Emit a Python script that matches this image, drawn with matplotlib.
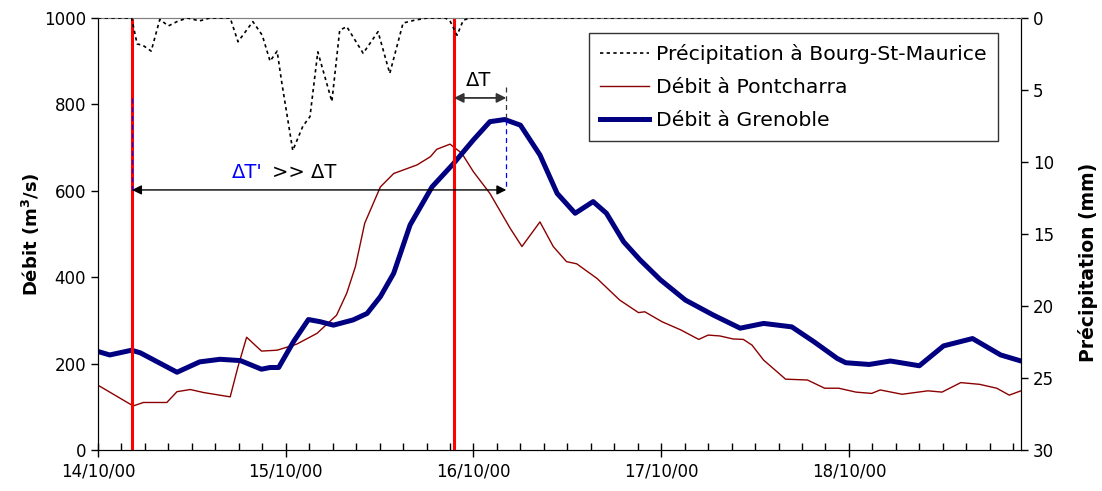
import matplotlib
matplotlib.use("Agg")
import matplotlib.pyplot as plt
from matplotlib.lines import Line2D
from matplotlib.ticker import MultipleLocator, FixedLocator, FixedFormatter

# temps en heures depuis le 14/10/00 00:00
t_precip = [0, 3.8, 4.3, 5.0, 5.75, 6.8, 7.9, 9.0, 10.1, 11.4, 13.0, 14.3, 16.9, 17.9,
            19.8, 21.0, 22.0, 22.9, 23.5, 24.9, 26.2, 27.1, 28.1, 29.9, 30.9, 31.8,
            33.9, 35.8, 37.3, 39.0, 40.5, 42.1, 44.4, 45.0, 45.9, 46.7, 47.6, 118]
precip = [0, 0, 0, 1.8, 1.9, 2.3, 0.1, 0.55, 0.25, 0, 0.2, 0, 0, 1.65,
          0.25, 1.2, 3.0, 2.3, 4.5, 9.2, 7.5, 6.85, 2.35, 5.8, 0.85, 0.6,
          2.45, 0.95, 3.85, 0.35, 0.15, 0, 0, 0.2, 1.2, 0.15, 0, 0]

t_pont = [0, 4.5, 5.8, 8.8, 10.1, 11.8, 13.5, 16.9, 17.9, 19.0, 20.9, 22.9, 25.4,
          28.0, 30.5, 31.8, 32.9, 34.1, 36.1, 37.8, 40.8, 42.5, 43.3, 45.0, 46.5,
          48.0, 50.1, 52.7, 54.2, 56.5, 58.2, 59.9, 61.2, 63.8, 66.7, 69.1, 69.9,
          72.1, 74.5, 76.8, 78.0, 79.5, 81.2, 82.5, 83.6, 85.1, 87.9, 90.7, 92.9,
          94.7, 96.9, 98.9, 100.0, 102.8, 106.1, 107.9, 110.3, 112.7, 114.9, 116.5, 118]
q_pont = [150, 102, 110, 110, 135, 140, 133, 123, 193, 261, 229, 231, 245,
          270, 312, 363, 424, 525, 609, 640, 660, 679, 696, 708, 687,
          644, 594, 513, 471, 528, 471, 436, 431, 397, 347, 318, 320,
          297, 278, 256, 266, 264, 257, 256, 243, 208, 164, 162, 143,
          143, 134, 131, 139, 129, 137, 134, 156, 152, 143, 127, 137]

t_gren = [0, 1.5, 4.3, 5.4, 10.1, 13.0, 15.6, 18.2, 20.9, 22.0, 23.1, 25.0, 26.9,
          28.4, 30.1, 32.6, 34.4, 36.1, 37.8, 39.9, 42.7, 45.4, 48.0, 50.1, 52.0,
          54.0, 56.5, 58.7, 61.0, 63.3, 65.0, 67.2, 69.3, 71.9, 75.1, 78.7, 82.1,
          85.1, 88.7, 91.5, 94.5, 95.6, 98.6, 101.3, 105.0, 108.1, 111.8, 115.4, 118]
q_gren = [228, 220, 231, 225, 180, 204, 210, 207, 187, 191, 191, 251, 302,
          297, 289, 301, 316, 355, 409, 521, 609, 662, 718, 760, 765,
          752, 683, 594, 548, 575, 548, 482, 440, 394, 347, 312, 282,
          293, 285, 251, 212, 202, 198, 206, 195, 241, 258, 220, 206]

day_labels = ["14/10/00", "15/10/00", "16/10/00", "17/10/00", "18/10/00"]
t_start_rain = 4.35   # début de la pluie
t_peak_pont = 45.5    # pic à Pontcharra
t_peak_gren = 52.2    # pic à Grenoble

fig = plt.figure(figsize=(11.02, 4.91), dpi=100)
ax = fig.add_axes([98 / 1102, 41 / 491, 923 / 1102, 432 / 491])

ax.plot(t_pont, q_pont, color="#8B0000", lw=1.0, zorder=3)
ax.plot(t_gren, q_gren, color="#000080", lw=3.6, zorder=3,
        solid_capstyle="round", solid_joinstyle="round")

# lignes verticales rouges
ax.axvline(t_start_rain, color="#FF0000", lw=2.2, zorder=4)
ax.axvline(t_peak_pont, color="#FF0000", lw=2.2, zorder=4)

# repères en pointillés
ax.plot([t_start_rain, t_start_rain], [815, 602], color="blue", lw=0.9, ls=(0, (4, 3)), zorder=5)
ax.plot([t_peak_gren, t_peak_gren], [765, 602], color="blue", lw=0.9, ls=(0, (4, 3)), zorder=5)
ax.plot([t_peak_gren, t_peak_gren], [840, 765], color="#333333", lw=0.9, ls=(0, (4, 3)), zorder=5)

# flèches
ax.annotate("", xy=(t_start_rain, 602), xytext=(t_peak_gren, 602),
            arrowprops=dict(arrowstyle="<|-|>", color="black", lw=1.0,
                            shrinkA=0, shrinkB=0, mutation_scale=14), zorder=5)
ax.annotate("", xy=(t_peak_pont, 815), xytext=(t_peak_gren, 815),
            arrowprops=dict(arrowstyle="<|-|>", color="#333333", lw=1.3,
                            shrinkA=0, shrinkB=0, mutation_scale=14), zorder=5)
ax.text(48.6, 855, "ΔT", fontsize=14, ha="center", va="center")
ax.text(21.1, 643, "ΔT'", fontsize=14, ha="right", va="center", color="blue")
ax.text(22.3, 643, ">> ΔT", fontsize=14, ha="left", va="center", color="black")

ax.set_xlim(0, 118)
ax.set_ylim(0, 1000)
ax.xaxis.set_major_locator(FixedLocator([0, 24, 48, 72, 96]))
ax.xaxis.set_major_formatter(FixedFormatter(day_labels))
ax.xaxis.set_minor_locator(MultipleLocator(3))
ax.yaxis.set_major_locator(MultipleLocator(200))
ax.tick_params(axis="x", which="major", direction="inout", length=10, width=1, labelsize=12, pad=4)
ax.tick_params(axis="x", which="minor", direction="in", length=5, width=1)
ax.tick_params(axis="y", direction="out", length=5, width=1, labelsize=12)
ax.set_ylabel("Débit (m$^\\mathbf{3}$/s)", fontsize=13, fontweight="bold")
ax.yaxis.set_label_coords(-56 / 923, 0.5)
ax.spines["top"].set_color("#808080")

ax2 = ax.twinx()
ax2.plot(t_precip, precip, color="black", lw=1.2, ls=(0, (2, 2)), zorder=3)
ax2.set_ylim(30, 0)
ax2.yaxis.set_major_locator(MultipleLocator(5))
ax2.tick_params(axis="y", direction="out", length=5, width=1, labelsize=12)
ax2.set_ylabel("Précipitation (mm)", fontsize=13.5, fontweight="bold")
ax2.yaxis.set_label_coords((1078 - 98) / 923, (450 - 262) / 432)
ax2.spines["top"].set_color("#808080")

handles = [
    Line2D([], [], color="black", lw=1.2, ls=(0, (2, 2))),
    Line2D([], [], color="#8B0000", lw=1.0),
    Line2D([], [], color="#000080", lw=3.6),
]
labels = ["Précipitation à Bourg-St-Maurice", "Débit à Pontcharra", "Débit à Grenoble"]
leg = ax2.legend(handles, labels, loc="upper right", bbox_to_anchor=(998 / 1102, 458 / 491),
                 bbox_transform=fig.transFigure, fontsize=14.7, frameon=True, fancybox=False,
                 handlelength=2.4, handletextpad=0.35, labelspacing=0.68, borderpad=0.55,
                 borderaxespad=0)
leg.get_frame().set_edgecolor("black")
leg.get_frame().set_linewidth(1.0)

fig.savefig("out.png", dpi=100)
